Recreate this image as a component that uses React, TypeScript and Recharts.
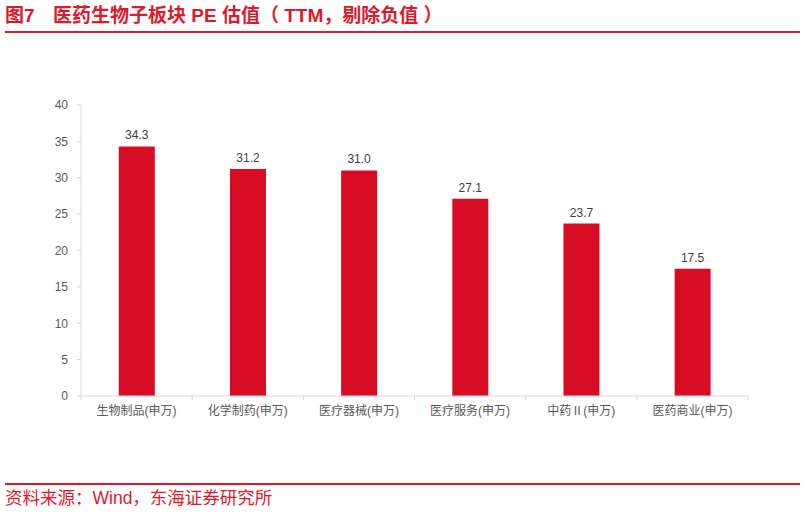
import React from "react";
import { BarChart, Bar, XAxis, YAxis, LabelList } from "recharts";

const categories = ["生物制品(申万)", "化学制药(申万)", "医疗器械(申万)", "医疗服务(申万)", "中药Ⅱ(申万)", "医药商业(申万)"];
const peValues = [34.3, 31.2, 31.0, 27.1, 23.7, 17.5];
const yTicks = [0, 5, 10, 15, 20, 25, 30, 35, 40];

const data = categories.map((name, i) => ({ name, value: peValues[i] }));

const FONT = "'Liberation Sans', 'Noto Sans CJK SC', Arial, sans-serif";
const RED = "#D80C25";
const AXIS = "#D9D9D9";

const CatTick = (props: any) => {
  const { x, y, payload, index, width } = props;
  const half = (width || 667) / categories.length / 2;
  const axisY = y - 8;
  return (
    <g>
      <line x1={x - half} y1={axisY} x2={x - half} y2={axisY + 4} stroke={AXIS} />
      {index === categories.length - 1 && (
        <line x1={x + half} y1={axisY} x2={x + half} y2={axisY + 4} stroke={AXIS} />
      )}
      <text x={x} y={axisY + 19} textAnchor="middle" fill="#595959" fontSize={12} fontFamily={FONT}>
        {payload.value}
      </text>
    </g>
  );
};

export default function App() {
  return (
    <div style={{ position: "absolute", left: 0, top: 0, width: 805, height: 513, background: "#fff", fontFamily: FONT }}>
      <div style={{ position: "absolute", left: 5, top: 4, fontSize: 19, fontWeight: "bold", color: "#DC1A2E", whiteSpace: "pre", lineHeight: "24px" }}>
        图7
      </div>
      <div style={{ position: "absolute", left: 53, top: 4, fontSize: 19, fontWeight: "bold", color: "#DC1A2E", whiteSpace: "pre", lineHeight: "24px" }}>
        {"医药生物子板块 PE 估值（ TTM，剔除负值 ）"}
      </div>
      <div style={{ position: "absolute", left: 5, top: 31, width: 795, height: 2, background: "#DC1A2E" }} />
      <div style={{ position: "absolute", left: 0, top: 0 }}>
        <BarChart width={805} height={513} data={data} margin={{ top: 105, right: 57, left: 0, bottom: 87 }} barCategoryGap="34%">
          <YAxis
            width={81}
            domain={[0, 40]}
            ticks={yTicks}
            interval={0}
            axisLine={{ stroke: AXIS }}
            tickLine={{ stroke: AXIS }}
            tickSize={4}
            tickMargin={9}
            tick={{ fill: "#595959", fontSize: 12, fontFamily: FONT }}
          />
          <XAxis
            dataKey="name"
            height={30}
            interval={0}
            axisLine={{ stroke: AXIS }}
            tickLine={false}
            tick={<CatTick />}
          />
          <Bar dataKey="value" fill={RED} isAnimationActive={false}>
            <LabelList dataKey="value" position="top" offset={7} fill="#404040" fontSize={12} fontFamily={FONT} formatter={(v: any) => Number(v).toFixed(1)} />
          </Bar>
        </BarChart>
      </div>
      <div style={{ position: "absolute", left: 5, top: 483, width: 795, height: 2, background: "#DC1A2E" }} />
      <div style={{ position: "absolute", left: 5, top: 487, fontSize: 17.5, color: "#DC1A2E", whiteSpace: "pre", lineHeight: "22px" }}>
        资料来源：Wind，东海证券研究所
      </div>
    </div>
  );
}
